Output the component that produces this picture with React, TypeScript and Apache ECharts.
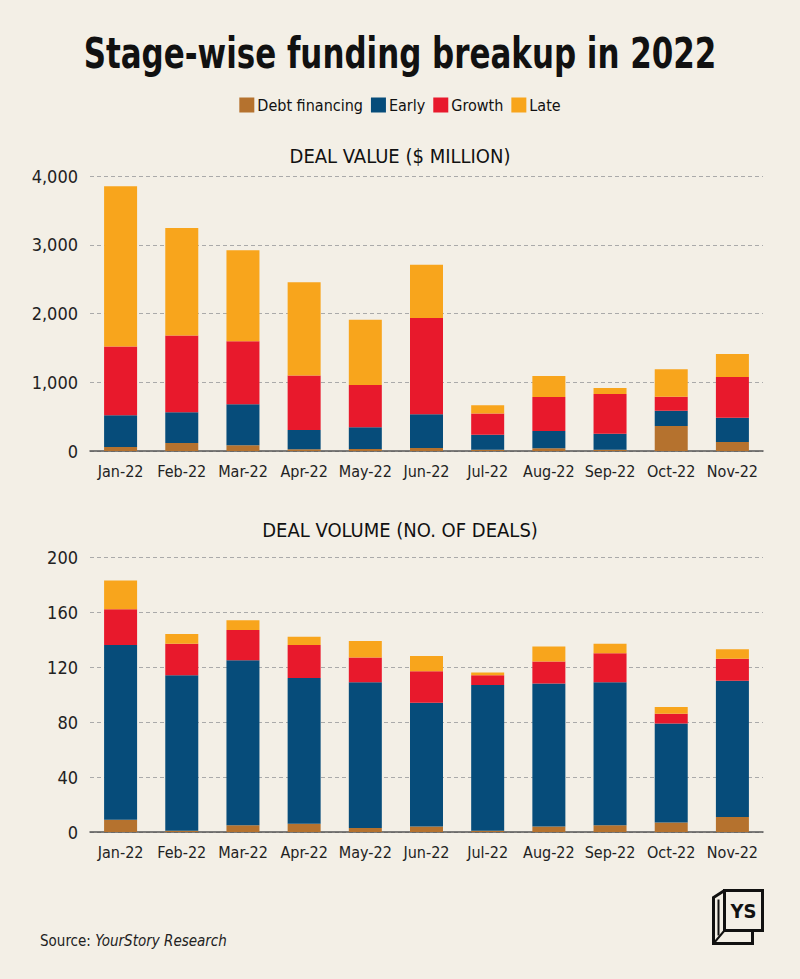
import React, { useEffect, useRef } from "react";
import * as echarts from "echarts";

const months = ["Jan-22", "Feb-22", "Mar-22", "Apr-22", "May-22", "Jun-22", "Jul-22", "Aug-22", "Sep-22", "Oct-22", "Nov-22"];
const seriesNames = ["Debt financing", "Early", "Growth", "Late"];
const colors = ["#b5722e", "#064c7a", "#e8192c", "#f8a51c"];

// Deal value ($ million)
const valueDebt = [60, 115, 85, 25, 30, 45, 20, 40, 20, 365, 130];
const valueEarly = [460, 450, 595, 280, 315, 490, 215, 250, 230, 220, 355];
const valueGrowth = [1000, 1115, 915, 795, 615, 1400, 310, 495, 580, 205, 590];
const valueLate = [2330, 1565, 1325, 1355, 950, 775, 120, 305, 85, 400, 335];

// Deal volume (no. of deals)
const volDebt = [9, 1, 5, 6, 3, 4, 1, 4, 5, 7, 11];
const volEarly = [127, 113, 120, 106, 106, 90, 106, 104, 104, 72, 99];
const volGrowth = [26, 23, 22, 24, 18, 23, 7, 16, 21, 7, 16];
const volLate = [21, 7, 7, 6, 12, 11, 2, 11, 7, 5, 7];

const FONT = "'Liberation Sans Narrow', 'DejaVu Sans Condensed', 'Roboto', sans-serif";

export default function App() {
  const ref = useRef<HTMLDivElement>(null);
  useEffect(() => {
    if (!ref.current) return;
    const chart = echarts.init(ref.current, null, { renderer: "svg" });
    const valueData = [valueDebt, valueEarly, valueGrowth, valueLate];
    const volData = [volDebt, volEarly, volGrowth, volLate];
    const xAxisBase = (gi: number) => ({
      type: "category" as const,
      gridIndex: gi,
      data: months,
      axisTick: { show: false },
      axisLine: { lineStyle: { color: "#555", width: 1.5 } },
      axisLabel: { color: "#222", fontSize: 16, fontFamily: FONT, margin: 12, interval: 0 },
    });
    const yAxisBase = (gi: number, max: number, interval: number) => ({
      type: "value" as const,
      gridIndex: gi,
      min: 0,
      max,
      interval,
      axisLine: { show: false },
      axisTick: { show: false },
      axisLabel: {
        color: "#222",
        fontSize: 18,
        fontFamily: FONT,
        margin: 12,
        formatter: (v: number) => v.toLocaleString("en-US"),
      },
      splitLine: { lineStyle: { color: "#aaa", type: [4, 3] as any, width: 1 } },
    });
    const series: any[] = [];
    seriesNames.forEach((name, i) => {
      series.push({
        name,
        type: "bar",
        stack: "value",
        xAxisIndex: 0,
        yAxisIndex: 0,
        barWidth: 33,
        itemStyle: { color: colors[i] },
        data: valueData[i],
      });
    });
    seriesNames.forEach((name, i) => {
      series.push({
        name,
        type: "bar",
        stack: "volume",
        xAxisIndex: 1,
        yAxisIndex: 1,
        barWidth: 33,
        itemStyle: { color: colors[i] },
        data: volData[i],
      });
    });
    chart.setOption({
      animation: false,
      backgroundColor: "#f3efe6",
      textStyle: { fontFamily: FONT },
      title: [
        {
          text: "DEAL VALUE ($ MILLION)",
          left: "center",
          top: 141,
          textStyle: { fontSize: 20, fontWeight: "normal", color: "#111", fontFamily: FONT },
        },
        {
          text: "DEAL VOLUME (NO. OF DEALS)",
          left: "center",
          top: 515,
          textStyle: { fontSize: 20, fontWeight: "normal", color: "#111", fontFamily: FONT },
        },
        {
          text: "Source: {i|YourStory Research}",
          left: 35,
          top: 928,
          textStyle: {
            fontSize: 15,
            fontWeight: "normal",
            color: "#222",
            fontFamily: FONT,
            rich: { i: { fontStyle: "italic", fontSize: 15, color: "#222", fontFamily: FONT } },
          },
        },
      ],
      legend: {
        data: seriesNames,
        left: "center",
        top: 92,
        icon: "rect",
        itemWidth: 15,
        itemHeight: 15,
        itemGap: 8,
        textStyle: { fontSize: 16, color: "#111", fontFamily: FONT, padding: [0, 0, 0, -2] },
      },
      grid: [
        { left: 90, right: 37, top: 176, height: 275 },
        { left: 90, right: 37, top: 557, height: 275 },
      ],
      xAxis: [xAxisBase(0), xAxisBase(1)],
      yAxis: [yAxisBase(0, 4000, 1000), yAxisBase(1, 200, 40)],
      series,
      graphic: [
        {
          type: "text",
          x: 400,
          y: 53,
          scaleX: 0.8,
          style: {
            text: "Stage-wise funding breakup in 2022",
            x: 0,
            y: 0,
            align: "center",
            verticalAlign: "middle",
            fontSize: 43,
            fontWeight: "bold",
            fontFamily: FONT,
            fill: "#111",
          },
        },
        {
          type: "group",
          left: 711,
          top: 888,
          children: [
            { type: "rect", shape: { x: 13, y: 1, width: 38, height: 40 }, style: { fill: "#f3efe6", stroke: "#111", lineWidth: 3 } },
            { type: "polyline", shape: { points: [[13, 1], [2, 8], [2, 54], [41, 54], [41, 41]] }, style: { fill: "none", stroke: "#111", lineWidth: 3 } },
            { type: "line", shape: { x1: 2, y1: 54, x2: 13, y2: 41 }, style: { stroke: "#111", lineWidth: 2 } },
            { type: "line", shape: { x1: 7, y1: 10, x2: 7, y2: 46 }, style: { stroke: "#111", lineWidth: 2 } },
            {
              type: "text",
              style: { text: "YS", x: 32, y: 21, align: "center", verticalAlign: "middle", fontSize: 20, fontWeight: "bold", fontFamily: FONT, fill: "#111" },
            },
          ],
        },
      ],
    });
    return () => chart.dispose();
  }, []);
  return <div ref={ref} style={{ position: "fixed", left: 0, top: 0, width: 800, height: 979 }} />;
}
